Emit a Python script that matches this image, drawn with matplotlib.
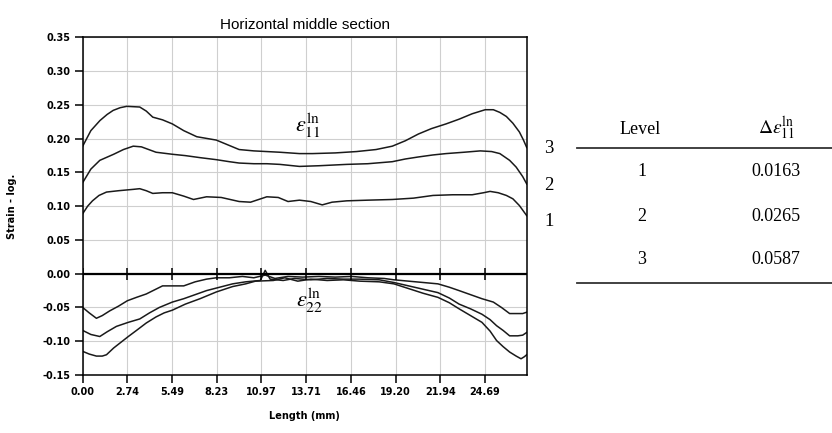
import matplotlib
matplotlib.use('Agg')
from matplotlib import pyplot as plt

plt.rcParams['font.family'] = ['Liberation Sans', 'DejaVu Sans']
plt.rcParams['mathtext.fontset'] = 'stix'

# strain eps11, levels 1..3 (length in mm, log strain)
x11_3 = [0, 0.5, 1.06, 1.5, 1.87, 2.3, 2.7, 3.5, 3.9, 4.3, 4.9, 5.5, 6.2, 7.0, 8.2, 9.0, 9.6, 10.5,
         11.3, 12.1, 13.3, 14.1, 15.5, 16.8, 18.0, 19.0, 19.8, 20.6, 21.4, 22.3, 23.1, 23.9, 24.7,
         25.2, 25.6, 26.0, 26.4, 26.8, 27.05, 27.25]
y11_3 = [0.189, 0.212, 0.227, 0.236, 0.242, 0.246, 0.248, 0.247, 0.241, 0.232, 0.228, 0.222, 0.212,
         0.203, 0.198, 0.190, 0.184, 0.182, 0.181, 0.180, 0.178, 0.178, 0.179, 0.181, 0.184, 0.189,
         0.197, 0.207, 0.215, 0.222, 0.229, 0.237, 0.243, 0.243, 0.239, 0.233, 0.223, 0.210, 0.198, 0.187]

x11_2 = [0, 0.5, 1.05, 1.9, 2.5, 3.1, 3.6, 4.5, 5.5, 6.3, 7.2, 8.2, 9.0, 9.6, 10.5, 11.3, 12.1, 13.3,
         14.5, 16.2, 17.5, 19.0, 19.8, 20.6, 21.5, 22.3, 23.4, 24.4, 25.1, 25.6, 26.2, 26.6, 27.0, 27.25]
y11_2 = [0.135, 0.155, 0.168, 0.177, 0.184, 0.189, 0.188, 0.180, 0.177, 0.175, 0.172, 0.169, 0.166,
         0.164, 0.163, 0.163, 0.162, 0.159, 0.160, 0.162, 0.163, 0.166, 0.170, 0.173, 0.176, 0.178,
         0.180, 0.182, 0.181, 0.178, 0.168, 0.158, 0.144, 0.133]

x11_1 = [0, 0.3, 0.6, 1.0, 1.46, 2.2, 3.1, 3.5, 3.9, 4.3, 4.9, 5.5, 6.2, 6.8, 7.6, 8.5, 9.6, 10.3,
         10.8, 11.3, 12.0, 12.6, 13.3, 14.0, 14.7, 15.3, 16.2, 17.5, 19.0, 20.3, 21.5, 22.7, 23.9,
         24.6, 25.0, 25.5, 26.0, 26.4, 26.8, 27.25]
y11_1 = [0.089, 0.100, 0.108, 0.116, 0.121, 0.123, 0.125, 0.126, 0.123, 0.119, 0.120, 0.120, 0.115,
         0.110, 0.114, 0.113, 0.107, 0.106, 0.110, 0.114, 0.113, 0.107, 0.109, 0.107, 0.102, 0.106,
         0.108, 0.109, 0.110, 0.112, 0.116, 0.117, 0.117, 0.120, 0.122, 0.120, 0.116, 0.111, 0.101, 0.086]

# strain eps22, levels 1..3
x22_1 = [0, 0.4, 0.84, 1.2, 1.66, 2.2, 2.74, 3.3, 3.9, 4.4, 4.9, 5.5, 6.2, 6.9, 7.6, 8.2, 9.0, 9.8,
         10.5, 11.2, 11.8, 12.6, 13.5, 14.5, 15.5, 16.5, 17.5, 18.5, 19.1, 20.0, 20.9, 21.8, 22.5,
         23.1, 23.8, 24.5, 25.2, 25.7, 26.2, 26.7, 27.0, 27.25]
y22_1 = [-0.050, -0.058, -0.066, -0.062, -0.055, -0.048, -0.040, -0.035, -0.030, -0.024, -0.018,
         -0.018, -0.018, -0.012, -0.008, -0.006, -0.006, -0.004, -0.006, -0.002, -0.007, -0.004,
         -0.005, -0.004, -0.005, -0.004, -0.006, -0.007, -0.009, -0.011, -0.013, -0.015, -0.020,
         -0.025, -0.031, -0.037, -0.042, -0.050, -0.059, -0.059, -0.059, -0.057]

x22_2 = [0, 0.5, 1.05, 1.5, 2.07, 2.8, 3.5, 4.1, 4.7, 5.5, 6.2, 6.9, 7.6, 8.4, 9.2, 10.0, 10.9,
         11.2, 11.5, 12.3, 13.0, 14.0, 15.0, 16.0, 17.0, 18.2, 19.1, 20.0, 20.9, 21.8, 22.5, 23.1,
         23.8, 24.5, 25.0, 25.4, 25.8, 26.2, 26.7, 27.0, 27.25]
y22_2 = [-0.084, -0.090, -0.093, -0.086, -0.078, -0.072, -0.067, -0.058, -0.050, -0.042, -0.037,
         -0.031, -0.025, -0.020, -0.015, -0.012, -0.010, 0.005, -0.008, -0.010, -0.007, -0.009,
         -0.007, -0.008, -0.008, -0.009, -0.013, -0.018, -0.023, -0.028, -0.036, -0.045, -0.052,
         -0.060, -0.068, -0.077, -0.084, -0.092, -0.092, -0.091, -0.087]

x22_3 = [0, 0.4, 0.84, 1.2, 1.46, 1.9, 2.27, 2.8, 3.3, 3.9, 4.5, 5.0, 5.5, 6.3, 7.2, 8.2, 9.2, 10.0,
         10.6, 11.7, 12.4, 13.2, 14.0, 15.0, 16.0, 17.0, 18.2, 19.1, 20.0, 20.9, 21.8, 22.5, 23.1,
         23.8, 24.5, 25.0, 25.4, 25.8, 26.2, 26.6, 26.9, 27.1, 27.25]
y22_3 = [-0.115, -0.119, -0.122, -0.122, -0.120, -0.110, -0.103, -0.093, -0.084, -0.073, -0.064,
         -0.058, -0.054, -0.045, -0.037, -0.027, -0.019, -0.015, -0.011, -0.010, -0.006, -0.011,
         -0.008, -0.010, -0.009, -0.011, -0.012, -0.015, -0.022, -0.029, -0.035, -0.043, -0.052,
         -0.062, -0.072, -0.085, -0.099, -0.108, -0.116, -0.122, -0.126, -0.123, -0.120]

xticks = [0.00, 2.74, 5.49, 8.23, 10.97, 13.71, 16.46, 19.20, 21.94, 24.69]
yticks = [-0.15, -0.10, -0.05, 0.00, 0.05, 0.10, 0.15, 0.20, 0.25, 0.30, 0.35]

levels = ['1', '2', '3']
delta11 = ['0.0163', '0.0265', '0.0587']

fig = plt.figure(figsize=(8.32, 4.33), dpi=100)
ax = fig.add_axes([0.0994, 0.134, 0.5337, 0.7794])

for xs, ys in [(x11_1, y11_1), (x11_2, y11_2), (x11_3, y11_3),
               (x22_1, y22_1), (x22_2, y22_2), (x22_3, y22_3)]:
    ax.plot(xs, ys, color='#1a1a1a', lw=1.1)

ax.set_xlim(0, 27.25)
ax.set_ylim(-0.15, 0.35)
ax.set_xticks(xticks)
ax.set_xticklabels(['%.2f' % v for v in xticks])
ax.set_yticks(yticks)
ax.set_yticklabels(['%.2f' % v for v in yticks])
ax.grid(True, color='#cfcfcf', lw=0.8)
ax.set_axisbelow(True)
ax.tick_params(direction='out', length=6, width=1.1, labelsize=7, pad=3)
for lab in ax.get_xticklabels() + ax.get_yticklabels():
    lab.set_fontweight('bold')
    lab.set_family('DejaVu Sans')
for s in ax.spines.values():
    s.set_linewidth(1.1)

# zero line with crossing ticks
ax.axhline(0, color='black', lw=1.6)
ax.plot(xticks, [0] * len(xticks), '|', color='black', ms=8, mew=1.1)

ax.set_title('Horizontal middle section', fontsize=11, pad=6)
ax.set_xlabel('Length (mm)', fontsize=7, fontweight='bold', family='DejaVu Sans', labelpad=10)
ax.set_ylabel('Strain - log.', fontsize=7, fontweight='bold', family='DejaVu Sans', labelpad=18)

ax.text(13.8, 0.219, r'$\varepsilon^{\mathrm{ln}}_{11}$', fontsize=16, ha='center', va='center')
ax.text(13.9, -0.040, r'$\varepsilon^{\mathrm{ln}}_{22}$', fontsize=16, ha='center', va='center')

# level numbers right of the plot
for lev, yend in zip(levels, [y11_1[-1], y11_2[-1], y11_3[-1]]):
    ax.annotate(lev, xy=(1.0, yend), xycoords=('axes fraction', 'data'),
                xytext=(16, -4 if lev == '1' else -1), textcoords='offset points',
                fontsize=13.5, family='Liberation Serif', ha='center', va='center')

# table
serif = 'Liberation Serif'
fig.text(640 / 832, 1 - 130 / 433, 'Level', fontsize=13, family=serif, ha='center', va='center')
fig.text(776 / 832, 1 - 128 / 433, r'$\Delta\varepsilon^{\mathrm{ln}}_{11}$', fontsize=14,
         ha='center', va='center')
fig.add_artist(plt.Line2D([577 / 832, 1.0], [1 - 148 / 433] * 2, color='#333333', lw=1.3))
row_y = [172, 216, 260]
for lev, d, yy in zip(levels, delta11, row_y):
    fig.text(642 / 832, 1 - yy / 433, lev, fontsize=13, family=serif, ha='center', va='center')
    fig.text(776 / 832, 1 - yy / 433, d, fontsize=13, family=serif, ha='center', va='center')
fig.add_artist(plt.Line2D([577 / 832, 1.0], [1 - 283 / 433] * 2, color='#333333', lw=1.3))

fig.savefig('out.png', dpi=100)
